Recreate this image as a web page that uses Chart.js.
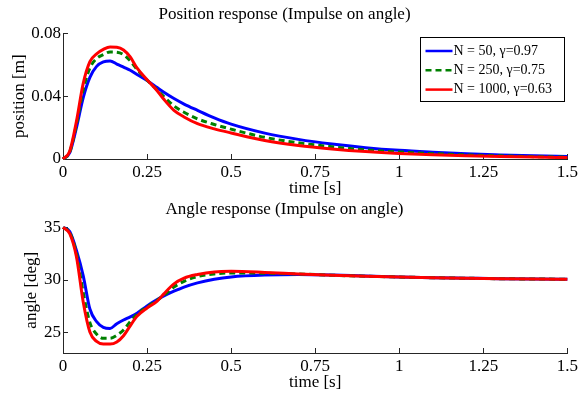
<!DOCTYPE html>
<html>
<head>
<meta charset="utf-8">
<title>Impulse on angle</title>
<script src="https://cdn.jsdelivr.net/npm/chart.js@4.4.1/dist/chart.umd.min.js"></script>
<style>
  html, body { margin: 0; padding: 0; background: #fff; }
  #wrap { position: relative; width: 581px; height: 395px; }
  canvas { position: absolute; left: 0; }
  #positionChart { top: 0; width: 581px; height: 197px; }
  #angleChart { top: 197px; width: 581px; height: 198px; }
</style>
</head>
<body>
<div id="wrap">
  <canvas id="positionChart" width="581" height="197"></canvas>
  <canvas id="angleChart" width="581" height="198"></canvas>
</div>
<script>
(function () {
  'use strict';

  // Datos
  const time = [0, 0.02, 0.04, 0.06, 0.08, 0.10, 0.12, 0.14, 0.16, 0.18, 0.20, 0.22, 0.25, 0.28, 0.30,
    0.33, 0.36, 0.40, 0.45, 0.50, 0.60, 0.70, 0.80, 0.90, 1.0, 1.1, 1.2, 1.3, 1.4, 1.5];

  const positionN50 = [0, 0.004, 0.02, 0.039, 0.052, 0.059, 0.0618, 0.0624, 0.0605, 0.0585, 0.0565, 0.0538,
    0.0500, 0.0455, 0.0425, 0.0385, 0.0350, 0.031, 0.0262, 0.0222, 0.0165, 0.0125, 0.0095, 0.0072,
    0.0055, 0.0043, 0.0033, 0.0026, 0.002, 0.0016];
  const positionN250 = [0, 0.0045, 0.022, 0.044, 0.058, 0.064, 0.0665, 0.0682, 0.068, 0.0665, 0.0625, 0.057,
    0.0502, 0.044, 0.0398, 0.0338, 0.0298, 0.0256, 0.022, 0.019, 0.0138, 0.0103, 0.0078, 0.0058,
    0.0044, 0.0034, 0.0026, 0.002, 0.0015, 0.0012];
  const positionN1000 = [0, 0.005, 0.024, 0.048, 0.062, 0.067, 0.0698, 0.0714, 0.0712, 0.0694, 0.065, 0.058,
    0.0505, 0.0435, 0.038, 0.031, 0.0268, 0.0225, 0.0192, 0.0166, 0.0118, 0.0086, 0.0064, 0.0047,
    0.0035, 0.0027, 0.0021, 0.0016, 0.0012, 0.0009];

  const angleN50 = [35, 34.6, 32.8, 30.4, 27.2, 26.0, 25.45, 25.35, 25.8, 26.15, 26.45, 26.8, 27.5, 28.1,
    28.45, 28.9, 29.3, 29.7, 30.05, 30.27, 30.45, 30.5, 30.45, 30.35, 30.27, 30.2, 30.15, 30.1, 30.07, 30.05];
  const angleN250 = [35, 34.5, 32.5, 28.8, 25.9, 24.8, 24.4, 24.4, 24.7, 25.2, 26.0, 26.7, 27.4, 28.05,
    28.5, 29.3, 29.85, 30.3, 30.55, 30.65, 30.62, 30.55, 30.43, 30.33, 30.26, 30.19, 30.14, 30.1, 30.07, 30.05];
  const angleN1000 = [35, 34.4, 32.2, 27.9, 25.0, 24.1, 23.85, 23.85, 24.05, 24.65, 25.6, 26.5, 27.3, 27.95,
    28.65, 29.6, 30.15, 30.5, 30.75, 30.8, 30.7, 30.55, 30.42, 30.33, 30.25, 30.18, 30.13, 30.09, 30.06, 30.04];

  const seriesLabels = ['N = 50, γ=0.97', 'N = 250, γ=0.75', 'N = 1000, γ=0.63'];
  const timeTicks = [0, 0.25, 0.5, 0.75, 1, 1.25, 1.5];
  const positionTicks = [0, 0.04, 0.08];
  const angleTicks = [25, 30, 35];

  // Estilo
  const FONT = "'Liberation Serif', 'Times New Roman', serif";
  const AXIS_COLOR = '#262626';
  const TICK_LEN = 5;
  const SERIES_STYLE = [
    { color: '#0000ff', dash: [], order: 3 },
    { color: '#008000', dash: [6, 4], order: 2 },
    { color: '#ff0000', dash: [], order: 1 }
  ];

  Chart.defaults.font.family = FONT;
  Chart.defaults.color = '#000';

  // Marcas de eje hacia dentro (estilo MATLAB)
  const inwardTicks = {
    id: 'inwardTicks',
    beforeDatasetsDraw(chart) {
      const { ctx, chartArea: a, scales: { x, y } } = chart;
      ctx.save();
      ctx.strokeStyle = AXIS_COLOR;
      ctx.lineWidth = 1;
      ctx.beginPath();
      x.ticks.forEach(t => {
        const px = Math.round(x.getPixelForValue(t.value)) + 0.5;
        ctx.moveTo(px, a.bottom);
        ctx.lineTo(px, a.bottom - TICK_LEN);
      });
      y.ticks.forEach(t => {
        const py = Math.round(y.getPixelForValue(t.value)) + 0.5;
        ctx.moveTo(a.left, py);
        ctx.lineTo(a.left + TICK_LEN, py);
      });
      ctx.stroke();
      ctx.restore();
    }
  };

  // Leyenda con recuadro dentro del área del gráfico
  const boxLegend = {
    id: 'boxLegend',
    afterDraw(chart, args, opts) {
      if (!opts.display) return;
      const { ctx, chartArea: a } = chart;
      const w = 144, h = 64;
      const left = Math.round(a.right - 3 - w) + 0.5;
      const top = Math.round(a.top + 4) + 0.5;
      ctx.save();
      ctx.fillStyle = '#fff';
      ctx.fillRect(left, top, w, h);
      ctx.strokeStyle = '#000';
      ctx.lineWidth = 1;
      ctx.strokeRect(left, top, w, h);
      ctx.font = '14px ' + FONT;
      ctx.textBaseline = 'middle';
      ctx.textAlign = 'left';
      chart.data.datasets.forEach((ds, i) => {
        const yRow = top + 13.5 + i * 19.3;
        ctx.beginPath();
        ctx.strokeStyle = ds.borderColor;
        ctx.lineWidth = 2.5;
        ctx.setLineDash(ds.borderDash || []);
        ctx.moveTo(left + 5, yRow);
        ctx.lineTo(left + 32, yRow);
        ctx.stroke();
        ctx.setLineDash([]);
        ctx.fillStyle = '#000';
        ctx.fillText(ds.label, left + 33, yRow);
      });
      ctx.restore();
    }
  };

  function toPoints(values) {
    return time.map((t, i) => ({ x: t, y: values[i] }));
  }

  function buildDatasets(seriesList) {
    return seriesList.map((values, i) => ({
      label: seriesLabels[i],
      data: toPoints(values),
      borderColor: SERIES_STYLE[i].color,
      backgroundColor: SERIES_STYLE[i].color,
      borderDash: SERIES_STYLE[i].dash,
      order: SERIES_STYLE[i].order,
      borderWidth: 3,
      pointRadius: 0,
      cubicInterpolationMode: 'monotone',
      fill: false,
      clip: false
    }));
  }

  function makeChart(id, cfg) {
    return new Chart(document.getElementById(id), {
      type: 'line',
      data: { datasets: buildDatasets(cfg.series) },
      options: {
        responsive: false,
        animation: false,
        events: [],
        layout: { padding: { left: 0, right: 12, top: 0, bottom: 0 } },
        plugins: {
          legend: { display: false },
          tooltip: { enabled: false },
          title: {
            display: true,
            text: cfg.title,
            color: '#000',
            font: { size: 17, weight: 'normal', lineHeight: 1.2 },
            padding: cfg.titlePadding
          },
          boxLegend: { display: cfg.legend }
        },
        scales: {
          x: {
            type: 'linear',
            min: 0,
            max: 1.5,
            afterBuildTicks: s => { s.ticks = timeTicks.map(v => ({ value: v })); },
            afterFit: s => { s.height = cfg.xHeight; },
            grid: { display: false, drawTicks: false },
            border: { display: true, color: AXIS_COLOR, width: 1 },
            ticks: {
              padding: 3,
              color: '#000',
              font: { size: 17 },
              maxRotation: 0,
              autoSkip: false,
              callback: v => String(v)
            },
            title: {
              display: true,
              text: 'time [s]',
              color: '#000',
              font: { size: 17, lineHeight: 1 },
              padding: { top: 0, bottom: cfg.xTitlePad }
            }
          },
          y: {
            type: 'linear',
            min: cfg.yMin,
            max: cfg.yMax,
            afterBuildTicks: s => { s.ticks = cfg.yTicks.map(v => ({ value: v })); },
            afterFit: s => { s.width = 63; },
            grid: { display: false, drawTicks: false },
            border: { display: true, color: AXIS_COLOR, width: 1 },
            ticks: {
              padding: 2,
              color: '#000',
              font: { size: 17 },
              callback: v => String(v)
            },
            title: {
              display: true,
              text: cfg.yTitle,
              color: '#000',
              font: { size: 17, lineHeight: 1 },
              padding: { top: cfg.yTitlePad, bottom: 0 }
            }
          }
        }
      },
      plugins: [inwardTicks, boxLegend]
    });
  }

  makeChart('positionChart', {
    series: [positionN50, positionN250, positionN1000],
    title: 'Position response (Impulse on angle)',
    titlePadding: { top: 4, bottom: 9 },
    yTitle: 'position [m]',
    yTitlePad: 11,
    yMin: 0,
    yMax: 0.08,
    yTicks: positionTicks,
    xHeight: 38,
    xTitlePad: 0,
    legend: true
  });

  makeChart('angleChart', {
    series: [angleN50, angleN250, angleN1000],
    title: 'Angle response (Impulse on angle)',
    titlePadding: { top: 2, bottom: 8 },
    yTitle: 'angle [deg]',
    yTitlePad: 23,
    yMin: 23,
    yMax: 35,
    yTicks: angleTicks,
    xHeight: 42,
    xTitlePad: 4,
    legend: false
  });
})();
</script>
</body>
</html>
